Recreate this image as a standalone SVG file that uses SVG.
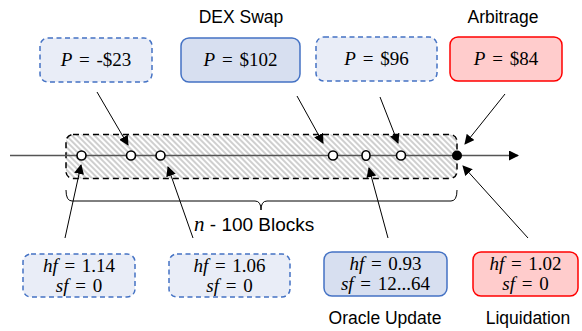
<svg xmlns="http://www.w3.org/2000/svg" width="582" height="331" viewBox="0 0 582 331">
<style>
.lbl{font-family:"Liberation Sans",Arial,sans-serif;font-size:17.5px;fill:#000;text-anchor:middle}
.math{font-family:"Liberation Serif","Times New Roman",serif;font-size:19px;fill:#000;text-anchor:middle;word-spacing:2px}
.math tspan.v{font-style:italic}
.dash{fill:#E9EDF7;stroke:#4472C4;stroke-width:1.5;stroke-dasharray:5,3.5}
.solid{fill:#D7DFF0;stroke:#4472C4;stroke-width:1.5}
.red{fill:#FFCCCC;stroke:#FF0000;stroke-width:1.5}
.arr{stroke:#000;stroke-width:1;fill:none;marker-end:url(#ah)}
.blk{fill:#fff;stroke:#000;stroke-width:1.6}
</style>
<defs>
<marker id="ah" viewBox="0 0 10 10" refX="9" refY="5" markerWidth="10" markerHeight="10" markerUnits="userSpaceOnUse" orient="auto">
<path d="M0,0 L10,5 L0,10 z" fill="#000"/>
</marker>
<marker id="ah2" viewBox="0 0 10 10" refX="9" refY="5" markerWidth="10" markerHeight="10" markerUnits="userSpaceOnUse" orient="auto">
<path d="M0,0 L10,5 L0,10 z" fill="#000"/>
</marker>
<pattern id="hatch" width="4" height="4" patternUnits="userSpaceOnUse" patternTransform="rotate(45)">
<rect width="4" height="4" fill="#fff"/>
<rect width="4" height="2" fill="#CFCFCF"/>
</pattern>
</defs>

<g id="band">
<rect x="66" y="134.5" width="391" height="44" rx="7" fill="url(#hatch)" stroke="#000" stroke-width="1.5" stroke-dasharray="6,4"/>
</g>

<g id="timeline">
<line x1="10" y1="155.5" x2="518" y2="155.5" stroke="#555" stroke-width="1.3" marker-end="url(#ah2)"/>
</g>

<g id="blocks">
<ellipse id="b1" cx="81.5" cy="155.5" rx="4.5" ry="4.5" class="blk"/>
<ellipse id="b2" cx="131" cy="155.5" rx="4.5" ry="4.5" class="blk"/>
<ellipse id="b3" cx="160.5" cy="155.5" rx="4.5" ry="4.5" class="blk"/>
<ellipse id="b4" cx="333" cy="155.5" rx="4.5" ry="4.5" class="blk"/>
<ellipse id="b5" cx="366" cy="155.5" rx="4" ry="4.8" class="blk"/>
<ellipse id="b6" cx="401" cy="155.5" rx="4.5" ry="4.5" class="blk"/>
<circle id="b7" cx="457" cy="155.5" r="5" fill="#000"/>
</g>

<g id="brace">
<path d="M66,190 Q66,201 72,201 L255,201 Q261,201 261,210 Q261,201 267,201 L451,201 Q457,201 457,190" fill="none" stroke="#000" stroke-width="1"/>
<text x="194" y="231" class="lbl" style="text-anchor:start;font-size:19px"><tspan font-family="Liberation Serif, serif" font-style="italic" font-size="21">n</tspan> - 100 Blocks</text>
</g>

<g id="top1">
<rect x="40" y="38" width="112" height="44" rx="8" class="dash"/>
<text x="96" y="66" class="math"><tspan class="v">P</tspan> = -$23</text>
</g>
<g id="top2">
<text x="241" y="23" class="lbl">DEX Swap</text>
<rect x="181" y="38" width="119" height="44" rx="8" class="solid"/>
<text x="240.5" y="66" class="math"><tspan class="v">P</tspan> = $102</text>
</g>
<g id="top3">
<rect x="316" y="37" width="121" height="44" rx="8" class="dash"/>
<text x="376.5" y="65" class="math"><tspan class="v">P</tspan> = $96</text>
</g>
<g id="top4">
<text x="503" y="23" class="lbl">Arbitrage</text>
<rect x="450" y="37" width="112" height="44" rx="8" class="red"/>
<text x="506" y="65" class="math"><tspan class="v">P</tspan> = $84</text>
</g>

<g id="bot1">
<rect x="23" y="254" width="112" height="43" rx="8" class="dash"/>
<text x="79" y="272" class="math"><tspan class="v">hf</tspan> = 1.14</text>
<text x="79" y="292" class="math"><tspan class="v">sf</tspan> = 0</text>
</g>
<g id="bot2">
<rect x="169" y="254" width="121" height="43" rx="8" class="dash"/>
<text x="229.5" y="272" class="math"><tspan class="v">hf</tspan> = 1.06</text>
<text x="229.5" y="292" class="math"><tspan class="v">sf</tspan> = 0</text>
</g>
<g id="bot3">
<rect x="324" y="252" width="123" height="44" rx="8" class="solid"/>
<text x="385.5" y="270" class="math"><tspan class="v">hf</tspan> = 0.93</text>
<text x="385.5" y="290" class="math"><tspan class="v">sf</tspan> = 12...64</text>
<text x="385" y="324" class="lbl">Oracle Update</text>
</g>
<g id="bot4">
<rect x="473" y="252" width="105" height="44" rx="8" class="red"/>
<text x="525.5" y="270" class="math"><tspan class="v">hf</tspan> = 1.02</text>
<text x="525.5" y="290" class="math"><tspan class="v">sf</tspan> = 0</text>
<text x="528" y="324" class="lbl">Liquidation</text>
</g>

<g id="connectors">
<line x1="97" y1="92" x2="128" y2="145" class="arr"/>
<line x1="297" y1="96" x2="323" y2="143" class="arr"/>
<line x1="380" y1="97" x2="398" y2="143" class="arr"/>
<line x1="505" y1="94" x2="465" y2="144" class="arr"/>
<line x1="65" y1="238" x2="81" y2="165" class="arr"/>
<line x1="193" y1="238" x2="168" y2="167" class="arr"/>
<line x1="388" y1="238" x2="369" y2="168" class="arr"/>
<line x1="528" y1="238" x2="463" y2="166" class="arr"/>
</g>
</svg>
